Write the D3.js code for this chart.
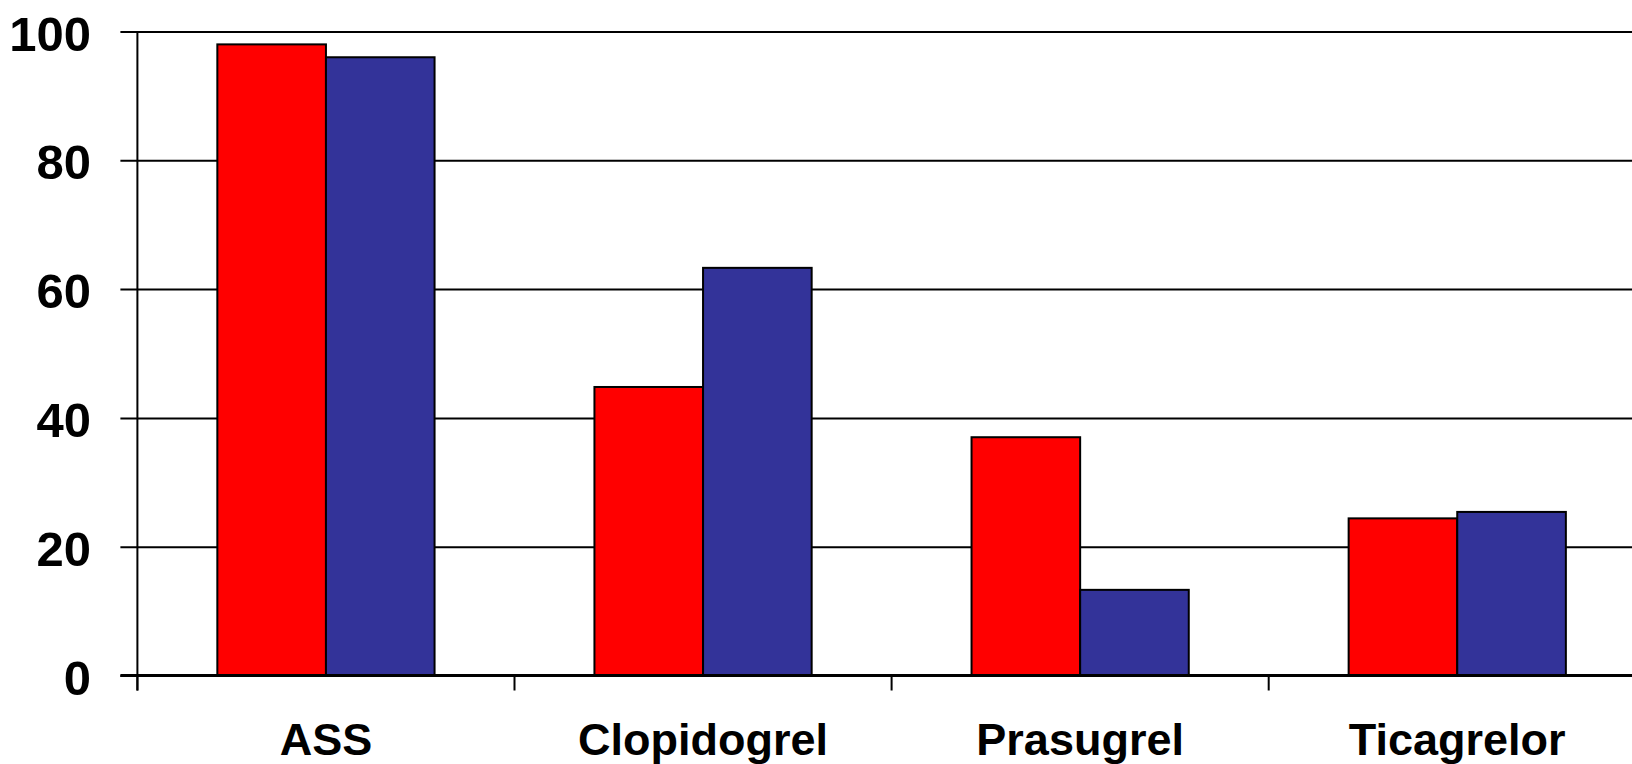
<!DOCTYPE html>
<html>
<head>
<meta charset="utf-8">
<script src="https://cdn.jsdelivr.net/npm/d3@7"></script>
<style>
  html, body { margin: 0; padding: 0; background: #fff; }
  svg { display: block; }
  text { font-family: "Liberation Sans", Arial, sans-serif; font-weight: bold; fill: #000; }
</style>
</head>
<body>
<svg id="chart" width="1632" height="764"></svg>
<script>
// Drugs on the category axis
const categories = ["ASS", "Clopidogrel", "Prasugrel", "Ticagrelor"];
// Two groups of values per drug
const seriesA = [98, 44.8, 37, 24.4];
const seriesB = [96, 63.3, 13.3, 25.4];
const seriesNames = ["A", "B"];
const yTicks = [0, 20, 40, 60, 80, 100];

const colors = { A: "#ff0000", B: "#333399" };

const svg = d3.select("#chart");
const plotLeft = 137.4, plotRight = 1645.8, plotTop = 31.5, plotBottom = 675.5;

const x0 = d3.scaleBand().domain(categories).range([plotLeft, plotRight]).paddingInner(0).paddingOuter(0);
const x1 = d3.scaleBand().domain(seriesNames).range([0, x0.bandwidth()]).paddingInner(0).paddingOuter(0.736);
const y = d3.scaleLinear().domain([0, 100]).range([plotBottom, plotTop]);

const rows = categories.map((c, i) => ({ cat: c, values: [
  { key: "A", value: seriesA[i] },
  { key: "B", value: seriesB[i] }
]}));

// Horizontal gridlines with left ticks
const yAxis = d3.axisLeft(y).tickValues(yTicks).tickSize(-(1632 - plotLeft)).tickFormat("");
const gy = svg.append("g").attr("transform", `translate(${plotLeft},0)`).call(yAxis);
gy.select(".domain").remove();
gy.selectAll(".tick line")
  .attr("x1", -17)
  .attr("stroke", "#000")
  .attr("stroke-width", 2);

// Y tick labels
svg.append("g").selectAll("text")
  .data(yTicks)
  .join("text")
  .attr("x", 91)
  .attr("y", d => y(d) + 19)
  .attr("text-anchor", "end")
  .attr("font-size", 49)
  .text(d => d);

// Bars
const groups = svg.append("g").selectAll("g")
  .data(rows)
  .join("g")
  .attr("transform", d => `translate(${x0(d.cat)},0)`);

groups.selectAll("rect")
  .data(d => d.values)
  .join("rect")
  .attr("x", d => x1(d.key))
  .attr("width", x1.bandwidth())
  .attr("y", d => y(d.value))
  .attr("height", d => y(0) - y(d.value))
  .attr("fill", d => colors[d.key])
  .attr("stroke", "#000")
  .attr("stroke-width", 2);

// Vertical axis line
svg.append("line")
  .attr("x1", plotLeft).attr("x2", plotLeft)
  .attr("y1", plotTop).attr("y2", plotBottom + 15)
  .attr("stroke", "#000").attr("stroke-width", 2);

// Category axis with boundary ticks
const xAxisG = svg.append("g").attr("transform", `translate(0,${plotBottom})`);
xAxisG.append("line")
  .attr("x1", plotLeft - 17).attr("x2", 1632)
  .attr("y1", 0).attr("y2", 0)
  .attr("stroke", "#000").attr("stroke-width", 3);
xAxisG.selectAll("line.tick")
  .data(categories)
  .join("line")
  .attr("class", "tick")
  .attr("x1", d => x0(d)).attr("x2", d => x0(d))
  .attr("y1", 0).attr("y2", 15)
  .attr("stroke", "#000").attr("stroke-width", 2);

// Category labels
svg.append("g").selectAll("text")
  .data(categories)
  .join("text")
  .attr("x", d => x0(d) + x0.bandwidth() / 2)
  .attr("y", 755)
  .attr("text-anchor", "middle")
  .attr("font-size", 45)
  .text(d => d);
</script>
</body>
</html>
